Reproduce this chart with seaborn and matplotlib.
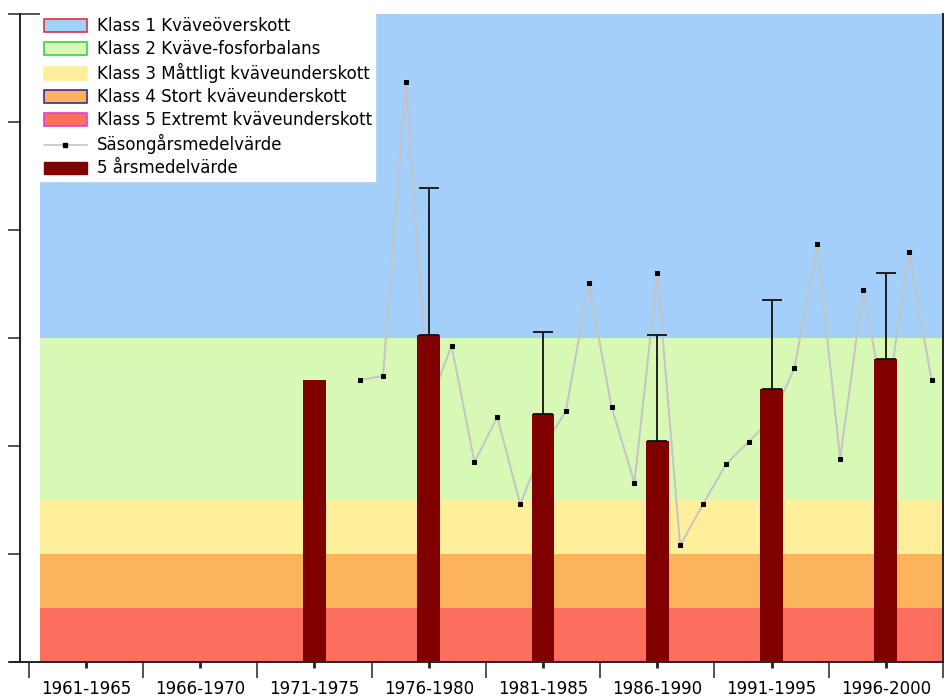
import numpy as np
import pandas as pd
import matplotlib
matplotlib.use('Agg')
import matplotlib.pyplot as plt
import seaborn as sns
from matplotlib.patches import Patch
from matplotlib.lines import Line2D

# perioder (5-årsintervall) på x-axeln
periods = ['1961-1965', '1966-1970', '1971-1975', '1976-1980',
           '1981-1985', '1986-1990', '1991-1995', '1996-2000']

# säsongårsmedelvärden
seasons = [1975, 1976, 1977, 1978, 1979, 1980, 1981, 1982, 1983, 1984,
           1985, 1986, 1987, 1988, 1989, 1990, 1991, 1992, 1993, 1994,
           1995, 1996, 1997, 1998, 1999, 2000]
season_vals = [26.1, 26.5, 53.7, 23.7, 29.3, 18.5, 22.7, 14.6, 19.9, 23.2,
               35.1, 23.6, 16.6, 36.0, 10.8, 14.6, 18.3, 20.4, 22.5, 27.2,
               38.7, 18.8, 34.4, 23.2, 38.0, 26.1]

# 5-årsmedelvärden med standardavvikelse (bara uppåt)
bar_periods = ['1971-1975', '1976-1980', '1981-1985', '1986-1990', '1991-1995', '1996-2000']
bar_mean = [26.1, 30.3, 23.0, 20.5, 25.3, 28.1]
bar_sd = [np.nan, 13.6, 7.6, 9.8, 8.2, 7.9]

# klassgränser
class_names = ['Klass 1 Kväveöverskott', 'Klass 2 Kväve-fosforbalans',
               'Klass 3 Måttligt kväveunderskott', 'Klass 4 Stort kväveunderskott',
               'Klass 5 Extremt kväveunderskott']
class_lo = [30, 15, 10, 5, 0]
class_hi = [60, 30, 15, 10, 5]
class_fill = ['#A3CFFA', '#D8F8B5', '#FFEE9A', '#FCB45C', '#FC6E5E']
class_edge = ['#E03040', '#40D040', '#FFEE9A', '#3030A0', '#E040D0']

sns.set_style('ticks')
plt.rcParams['font.family'] = ['DejaVu Sans']
plt.rcParams['text.color'] = 'black'
plt.rcParams['xtick.color'] = 'black'
plt.rcParams['ytick.color'] = 'black'

fig = plt.figure(figsize=(9.46, 6.97), dpi=100)
ax = fig.add_axes([10/946, 35/697, 933/946, 648/697])

x_left, x_right = 1959.68, 2000.49
band_start = 1961.0

# bakgrundsband
for lo, hi, c in zip(class_lo, class_hi, class_fill):
    ax.fill_between([band_start, x_right], lo, hi, color=c, linewidth=0, zorder=0)

# säsongårslinjen
sns.lineplot(x=seasons, y=season_vals, ax=ax, color='#C4C4C4', linewidth=1.4,
             marker='s', markersize=3.5, markerfacecolor='black',
             markeredgecolor='black', errorbar=None, sort=False, zorder=2)

# staplar
bar_mid = [int(p[:4]) + 2 for p in bar_periods]
sns.barplot(x=bar_mid, y=bar_mean, native_scale=True, color='#800000',
            saturation=1, width=0.2, errorbar=None, linewidth=0, ax=ax, zorder=3)

bdf = pd.DataFrame({'mid': bar_mid, 'mean': bar_mean, 'sd': bar_sd}).dropna()
ax.errorbar(bdf['mid'], bdf['mean'], yerr=[np.zeros(len(bdf)), bdf['sd']],
            fmt='none', ecolor='#111111', elinewidth=1.3, capsize=7,
            capthick=1.3, zorder=4)

ax.set_xlim(x_left, x_right)
ax.set_ylim(0, 60)

# axlar
ax.spines['top'].set_visible(False)
ax.spines['left'].set_position(('data', 1960.1))
for s in ['left', 'bottom', 'right']:
    ax.spines[s].set_linewidth(1.4)
    ax.spines[s].set_color('#222222')

ax.set_yticks(np.arange(0, 61, 10))
ax.set_yticklabels([])
ax.tick_params(axis='y', direction='out', length=8.5, width=1.1, color='#222222')
ax.hlines(60, 1960.1, band_start, color='#222222', linewidth=1.1, zorder=5, clip_on=False)

starts = [int(p[:4]) for p in periods]
ax.set_xticks([s - 0.5 for s in starts] + [2000.5])
ax.set_xticklabels([])
ax.set_xticks([s + 2 for s in starts], minor=True)
ax.set_xticklabels(periods, minor=True, fontsize=12)
ax.tick_params(axis='x', which='major', direction='out', length=11.5, width=1.1, color='#222222')
ax.tick_params(axis='x', which='minor', direction='out', length=4.3, width=2.0,
               color='#222222', pad=8.5)
ax.set_xlabel('')
ax.set_ylabel('')

# legend
handles = [Patch(facecolor=f, edgecolor=e, linewidth=1.2) for f, e in zip(class_fill, class_edge)]
handles.append(Line2D([], [], color='#C4C4C4', linewidth=1.2, marker='s', markersize=2.5,
                      markerfacecolor='black', markeredgecolor='black'))
handles.append(Patch(facecolor='#800000', edgecolor='#800000'))
labels = class_names + ['Säsongårsmedelvärde', '5 årsmedelvärde']
bx = (band_start - x_left) / (x_right - x_left)
leg = ax.legend(handles, labels, loc='upper left', bbox_to_anchor=(bx, 1.0),
                borderaxespad=0, fontsize=12, frameon=True, fancybox=False,
                framealpha=1, edgecolor='white', facecolor='white',
                handlelength=2.6, handleheight=0.75, handletextpad=0.6,
                labelspacing=0.3, borderpad=0.2, numpoints=1)
leg.set_zorder(6)

plt.savefig('out.png', dpi=100)
